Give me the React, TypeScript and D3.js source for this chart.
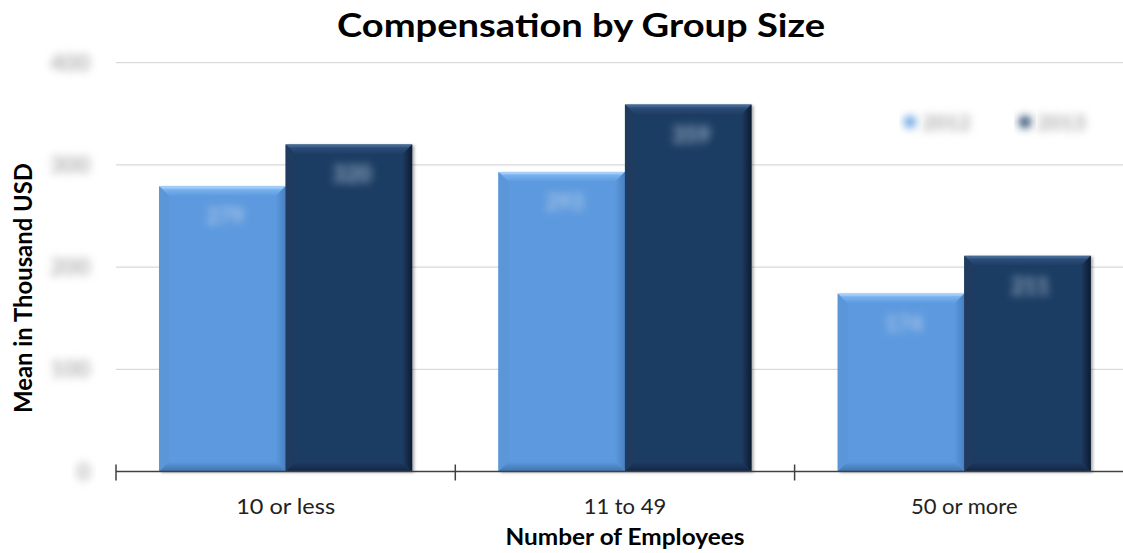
import React from "react";
import * as d3 from "d3";

const categories = ["10 or less", "11 to 49", "50 or more"];
const seriesNames = ["2012", "2013"];
const values2012 = [279, 293, 174];
const values2013 = [320, 359, 211];
const yTicks = [0, 100, 200, 300, 400];

const W = 1123;
const H = 553;

const palette: Record<string, { base: string; top: string; topHi: string; side: string; right: string; bottom: string }> = {
  "2012": { base: "#5b99de", top: "#77b0ee", topHi: "#a9d3fb", side: "#5a96d8", right: "#4a80c2", bottom: "#3f74b0" },
  "2013": { base: "#1f3c63", top: "#2c4d78", topHi: "#4a6f9c", side: "#1f3b60", right: "#0c1b30", bottom: "#132645" },
};

export default function App() {
  const x0 = d3.scaleBand<string>().domain(categories).range([116, 116 + 339.3 * 3]).paddingInner(0).paddingOuter(0);
  const x1 = d3.scaleBand<string>().domain(seriesNames).range([0, x0.bandwidth()]).paddingInner(0).paddingOuter(0.341);
  const y = d3.scaleLinear().domain([0, 400]).range([471.5, 62.7]);
  const data = categories.map((c, i) => ({ c, vals: [values2012[i], values2013[i]] }));
  const b = 10;
  const font = "Lato, 'Open Sans', sans-serif";
  const [xr0, xr1] = x0.range();
  const tickXs = [...categories.map((c) => x0(c)!), xr1];

  return (
    <svg width={W} height={H} style={{ position: "absolute", left: 0, top: 0, background: "#fff" }} fontFamily={font}>
      <defs>
        <filter id="blur" x="-40%" y="-80%" width="180%" height="260%">
          <feGaussianBlur stdDeviation="4.5" />
        </filter>
        <filter id="blurS" x="-40%" y="-80%" width="180%" height="260%">
          <feGaussianBlur stdDeviation="4.2" />
        </filter>
        <filter id="shadow" x="-10%" y="-10%" width="130%" height="130%">
          <feDropShadow dx="2" dy="1" stdDeviation="1.5" floodColor="#000" floodOpacity="0.35" />
        </filter>
        {seriesNames.map((s) => (
          <React.Fragment key={s}>
            <linearGradient id={`top-${s}`} x1="0" y1="0" x2="0" y2="1">
              <stop offset="0" stopColor={palette[s].topHi} />
              <stop offset="0.35" stopColor={palette[s].top} />
              <stop offset="1" stopColor={palette[s].base} />
            </linearGradient>
            <linearGradient id={`right-${s}`} x1="0" y1="0" x2="1" y2="0">
              <stop offset="0" stopColor={palette[s].base} />
              <stop offset="1" stopColor={palette[s].right} />
            </linearGradient>
            <linearGradient id={`bottom-${s}`} x1="0" y1="0" x2="0" y2="1">
              <stop offset="0" stopColor={palette[s].base} />
              <stop offset="1" stopColor={palette[s].bottom} />
            </linearGradient>
          </React.Fragment>
        ))}
      </defs>

      {/* gridlines */}
      {yTicks.filter((t) => t > 0).map((t) => (
        <line key={t} x1={xr0} x2={xr1} y1={y(t)} y2={y(t)} stroke="#d9d9d9" strokeWidth={1.3} />
      ))}

      {/* y tick labels (blurred) */}
      {yTicks.map((t) => (
        <text key={t} x={90} y={y(t) + 8} textAnchor="end" fontSize={23} fontWeight="bold" fill="#b0b0b0" filter="url(#blur)">
          {t}
        </text>
      ))}

      {/* bars */}
      {data.map((d) => (
        <g key={d.c} transform={`translate(${x0(d.c)},0)`}>
          {seriesNames.map((s, i) => {
            const bx = x1(s)!;
            const bw = x1.bandwidth();
            const by = y(d.vals[i]);
            const bh = y(0) - by;
            const p = palette[s];
            return (
              <g key={s}>
                <rect x={bx} y={by} width={bw} height={bh} fill={p.base} filter="url(#shadow)" />
                <polygon points={`${bx},${by} ${bx + bw},${by} ${bx + bw - b},${by + b} ${bx + b},${by + b}`} fill={`url(#top-${s})`} />
                <polygon points={`${bx},${by} ${bx + b},${by + b} ${bx + b},${by + bh - b} ${bx},${by + bh}`} fill={p.side} />
                <polygon points={`${bx + bw},${by} ${bx + bw - b},${by + b} ${bx + bw - b},${by + bh - b} ${bx + bw},${by + bh}`} fill={`url(#right-${s})`} />
                <polygon points={`${bx},${by + bh} ${bx + b},${by + bh - b} ${bx + bw - b},${by + bh - b} ${bx + bw},${by + bh}`} fill={`url(#bottom-${s})`} />
                <line x1={bx + 3} x2={bx + bw - 3} y1={by + 1.5} y2={by + 1.5} stroke={p.topHi} strokeWidth={1} opacity={0.7} />
                <text x={bx + bw / 2 + 3} y={by + 38} textAnchor="middle" fontSize={22} fontWeight="bold" fill="#c8d8ea" filter="url(#blurS)" opacity={0.75}>
                  {d.vals[i]}
                </text>
              </g>
            );
          })}
        </g>
      ))}

      {/* x axis */}
      <line x1={xr0} x2={xr1} y1={y(0)} y2={y(0)} stroke="#404040" strokeWidth={1.5} />
      {tickXs.map((tx, i) => (
        <line key={i} x1={tx} x2={tx} y1={y(0) - 7} y2={y(0) + 9} stroke="#404040" strokeWidth={1.5} />
      ))}
      {categories.map((c) => (
        <text key={c} x={x0(c)! + x0.bandwidth() / 2} y={514} textAnchor="middle" fontSize={22} fill="#222" textLength={c === "10 or less" ? 99 : undefined} lengthAdjust="spacingAndGlyphs">
          {c}
        </text>
      ))}

      {/* axis titles */}
      <text x={625} y={545} textAnchor="middle" fontSize={23} fontWeight="bold" fill="#000" textLength={239} lengthAdjust="spacingAndGlyphs">
        Number of Employees
      </text>
      <text transform="translate(32,288) rotate(-90)" textAnchor="middle" fontSize={24} fontWeight="bold" fill="#000" textLength={250} lengthAdjust="spacingAndGlyphs">
        Mean in Thousand USD
      </text>

      {/* title */}
      <text x={581} y={37} textAnchor="middle" fontSize={33} fontWeight="bold" fill="#000" textLength={488} lengthAdjust="spacingAndGlyphs">
        Compensation by Group Size
      </text>

      {/* legend (blurred) */}
      {seriesNames.map((s, i) => {
        const lx = 910 + i * 115;
        return (
          <g key={s}>
            <circle cx={lx} cy={122} r={6} fill={palette[s].base} filter="url(#blurS)" />
            <text x={lx + 12} y={130} fontSize={21} fontWeight="bold" fill="#a8a8a8" filter="url(#blur)">
              {s}
            </text>
          </g>
        );
      })}
    </svg>
  );
}
